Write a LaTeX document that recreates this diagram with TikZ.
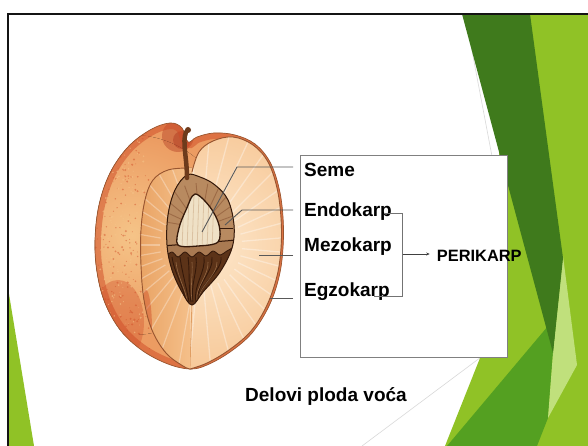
\documentclass[tikz,border=0pt]{standalone}
\usepackage{fontspec}
\setmainfont{Liberation Sans}
\usetikzlibrary{arrows.meta}
\definecolor{facetgreen}{HTML}{90C226}
\definecolor{facetdark}{HTML}{3F7A1C}
\definecolor{facetmid}{HTML}{54A021}
\definecolor{facetpale}{HTML}{C0E07C}
\definecolor{facetline}{HTML}{D9D9D9}
\definecolor{skinbase}{HTML}{EC9C62}
\definecolor{skinlight}{HTML}{F5C488}
\definecolor{skinred}{HTML}{CF4A26}
\definecolor{deepred}{HTML}{A52816}
\definecolor{fleshdeep}{HTML}{F2B070}
\definecolor{fleshlight}{HTML}{FDE7CB}
\definecolor{fleshleft}{HTML}{E9A465}
\definecolor{rim}{HTML}{9A5630}
\definecolor{pitdark}{HTML}{5C3318}
\definecolor{pitedge}{HTML}{35190A}
\definecolor{shellcut}{HTML}{B88A60}
\definecolor{shellband}{HTML}{A97A52}
\definecolor{seedcream}{HTML}{EFE1C6}
\definecolor{stembrown}{HTML}{6E3B1C}
\tikzset{
  lbl/.style={font=\bfseries\fontsize{19}{22}\selectfont, inner sep=0pt},
  perilbl/.style={font=\bfseries\fontsize{16.4}{19}\selectfont, inner sep=0pt},
  leader/.style={draw=black!65, line width=0.9pt},
  bracket/.style={draw=black!55, line width=0.8pt},
  panel/.style={draw=black!50, line width=0.9pt, fill=white, inner sep=0pt},
}
% outlines of the peach illustration
\def\peachOutline{plot[smooth cycle, tension=0.6] coordinates {(190,369) (168,364) (143,351) (121,331) (105,303) (97,272) (95,240) (99,205) (110,173) (128,147) (150,130) (170,123) (182,128) (188,142) (197,137) (214,133) (235,135) (255,144) (270,162) (279,188) (283,217) (283,248) (279,277) (269,306) (252,333) (230,352) (207,365)}}
\def\leftFace{plot[smooth, tension=0.6] coordinates {(188,168) (168,170) (153,180) (145,200) (141,230) (141,265) (144,300) (152,330) (166,353) (183,366) (190,369)} -- (192,369) -- (192,168) -- cycle}
\def\rightFace{plot[smooth, tension=0.6] coordinates {(192,172) (199,152) (213,141) (233,137) (253,145) (268,162) (277,188) (281,218) (281,248) (277,276) (267,305) (251,331) (229,350) (207,363) (190,369)} -- cycle}
\def\pitShape{plot[smooth cycle, tension=0.6] coordinates {(187,175) (175,190) (168,215) (167,245) (172,270) (182,292) (192,305) (203,292) (220,272) (232,248) (234,225) (228,200) (215,185) (200,177)}}
\def\seedShape{plot[smooth cycle, tension=0.55] coordinates {(195,194) (186,210) (179,228) (178,245) (198,246) (218,242) (219,225) (210,207)}}
\begin{document}
\begin{tikzpicture}[x=1pt,y=-1pt]
\useasboundingbox (0,0) rectangle (588,446);
\fill[white] (0,0) rectangle (588,446);

% thin facet lines behind the green panels
\coordinate (fl1) at (465,14);
\coordinate (fl2) at (524,325);
\coordinate (fl3) at (362,446);
\draw[facetline, line width=0.6pt] (fl1) -- (fl2) -- (fl3);

% green panels on the right
\fill[facetgreen] (500,14) -- (588,14) -- (588,446) -- (445,446) -- (480,358) -- (499,170) -- cycle;
\fill[facetmid] (447,446) -- (548,326) -- (556,330) -- (553,353) -- (548,418) -- (537,446) -- cycle;
\fill[facetpale] (563,256) -- (577,365) -- (548,418) -- (553,353) -- cycle;
\fill[facetdark] (462,14) -- (530,14) -- (563,258) -- (553,353) -- cycle;
% green wedge at the lower left
\fill[facetgreen] (8,288) -- (8,446) -- (34,446) -- cycle;

% slide frame
\draw[black!92, line width=2pt] (8.3,446) -- (8.3,13.7) -- (588,13.7);

% ---------------- peach cross-section ----------------
% skin
\fill[skinbase] \peachOutline;
\begin{scope}
  \clip \peachOutline;
  \fill[inner color=skinlight, outer color=skinbase] (132,235) circle[radius=100];
  \fill[skinred, opacity=0.35] (118,322) ellipse[x radius=26, y radius=42];
  \fill[deepred, opacity=0.35] (178,136) circle[radius=16];
  \fill[deepred, opacity=0.35] (182,140) circle[radius=9];
  \draw[skinred, opacity=0.5, line width=12pt] \peachOutline;
  \pgfmathsetseed{11}
  \foreach \k in {1,...,260}{
    \pgfmathsetmacro{\sx}{95+55*rnd}
    \pgfmathsetmacro{\sy}{122+245*rnd}
    \pgfmathsetmacro{\sr}{0.4+0.8*rnd}
    \fill[skinred, opacity=0.45] (\sx,\sy) circle[radius=\sr];
  }
  \foreach \k in {1,...,160}{
    \pgfmathsetmacro{\sx}{100+45*rnd}
    \pgfmathsetmacro{\sy}{130+230*rnd}
    \pgfmathsetmacro{\sr}{0.4+0.7*rnd}
    \fill[skinlight, opacity=0.6] (\sx,\sy) circle[radius=\sr];
  }
\end{scope}
\draw[rim, line width=0.7pt] \peachOutline;

% left cut face
\fill[left color=fleshleft, right color=fleshdeep!70!fleshlight] \leftFace;
\begin{scope}
  \clip \leftFace;
  \foreach \a in {100,110,...,260}{
    \draw[white, opacity=0.3, line width=1.2pt] (200,245) ++(\a:40) -- ++(\a:80);
  }
  \fill[skinred, opacity=0.45] (146,330) ellipse[x radius=6, y radius=40];
\end{scope}
\draw[rim, line width=0.9pt] plot[smooth, tension=0.6] coordinates {(188,168) (168,170) (153,180) (145,200) (141,230) (141,265) (144,300) (152,330) (166,353) (183,366) (190,369)};

% right cut face
\fill[fleshdeep] \rightFace;
\begin{scope}
  \clip \rightFace;
  \fill[inner color=fleshlight, outer color=fleshdeep] (205,245) circle[radius=230];
  \foreach \a in {-95,-85,...,95}{
    \draw[white, opacity=0.35, line width=1.3pt] (200,245) ++(\a:42) -- ++(\a:90);
  }
  \draw[fleshdeep!80!rim, line width=0.8pt] (192,300) -- (190,369);
\end{scope}
\draw[rim, line width=0.9pt] plot[smooth, tension=0.6] coordinates {(192,172) (199,152) (213,141) (233,137) (253,145) (268,162) (277,188) (281,218) (281,248) (277,276) (267,305) (251,331) (229,350) (207,363) (190,369)};

% stone
\fill[pitdark] \pitShape;
\begin{scope}
  \clip \pitShape;
  \fill[shellcut] (150,150) -- (250,150) -- (250,241) -- plot[smooth] coordinates {(234,247) (227,251) (220,255) (213,251) (206,256) (199,252) (192,257) (185,252) (178,257) (172,252) (166,256)} -- (150,256) -- cycle;
  \foreach \a in {-170,-155,...,-10}{
    \draw[rim!80!black, opacity=0.45, line width=0.9pt] (200,228) -- ++(\a:45);
  }
  \fill[shellband] (150,246) -- (250,238) -- (250,241) -- plot[smooth] coordinates {(234,247) (227,251) (220,255) (213,251) (206,256) (199,252) (192,257) (185,252) (178,257) (172,252) (166,256)} -- (150,256) -- cycle;
  \draw[pitedge, line width=1pt] (150,247) -- (250,239);
  \draw[pitedge, line width=0.9pt] plot[smooth] coordinates {(234,247) (227,251) (220,255) (213,251) (206,256) (199,252) (192,257) (185,252) (178,257) (172,252) (166,256)};
  % wrinkles on the uncut half of the stone
  \foreach \xa/\xb in {172/186, 180/189, 188/191, 196/193, 204/196, 212/198, 221/199}{
    \draw[pitedge, line width=0.9pt] (\xa,257) .. controls (\xa+2,272) and (\xb-3,285) .. (\xb,302);
  }
  \foreach \xa/\xb in {176/187, 192/192, 208/197, 217/199}{
    \draw[shellcut, opacity=0.6, line width=0.6pt] (\xa,262) .. controls (\xa+1,275) and (\xb-2,288) .. (\xb,300);
  }
\end{scope}
\draw[pitedge, line width=1pt] \pitShape;

% kernel
\fill[seedcream] \seedShape;
\begin{scope}
  \clip \seedShape;
  \foreach \xx in {184,189,...,216}{
    \draw[shellcut, opacity=0.35, line width=0.8pt] (\xx,195) -- (\xx-2,250);
  }
\end{scope}
\draw[pitedge, line width=1.3pt] \seedShape;
\draw[pitedge, line width=1pt] (219,228) -- (233,228);

% stalk
\draw[stembrown, line width=4.5pt, line cap=round] (187,178) .. controls (187,158) and (182,142) .. (186,132);
\fill[stembrown] (188,130) circle[radius=3];

% ---------------- labels ----------------
\node[panel, minimum width=207pt, minimum height=201pt, anchor=north west] (panel) at (300,155.5) {};

\node[lbl, anchor=base west] (seme) at (304,176.5) {Seme};
\node[lbl, anchor=base west] (endo) at (304,217) {Endokarp};
\node[lbl, anchor=base west] (mezo) at (304,251) {Mezokarp};
\node[lbl, anchor=base west] (egzo) at (304,296.5) {Egzokarp};
\node[perilbl, anchor=base west] (peri) at (436.7,261) {PERIKARP};
\node[lbl, anchor=base west] (caption) at (245,401) {Delovi ploda voća};

% leader lines into the illustration
\coordinate (semeA) at (293,167);
\coordinate (semeB) at (237,167);
\coordinate (semeC) at (202,232);
\coordinate (endoA) at (293,210);
\coordinate (endoB) at (242,210);
\coordinate (endoC) at (225,225);
\coordinate (mezoA) at (293,255);
\coordinate (mezoB) at (259,255);
\coordinate (egzoA) at (293,298);
\coordinate (egzoB) at (270,298);
\draw[leader] (semeA) -- (semeB) -- (semeC);
\draw[leader] (endoA) -- (endoB) -- (endoC);
\draw[leader] (mezoA) -- (mezoB);
\draw[leader] (egzoA) -- (egzoB);

% bracket grouping the three layers
\coordinate (brA) at (385,213.3);
\coordinate (brB) at (402.7,213.3);
\coordinate (brC) at (402.7,296.7);
\coordinate (brD) at (374,296.7);
\coordinate (brM) at (402.7,254);
\draw[bracket] (brA) -- (brB) -- (brC) -- (brD);
\draw[black!75, line width=0.8pt, -{Stealth[length=3.5pt, width=3pt]}, shorten >=7pt] (brM) -- (peri.west |- brM);
\end{tikzpicture}
\end{document}
